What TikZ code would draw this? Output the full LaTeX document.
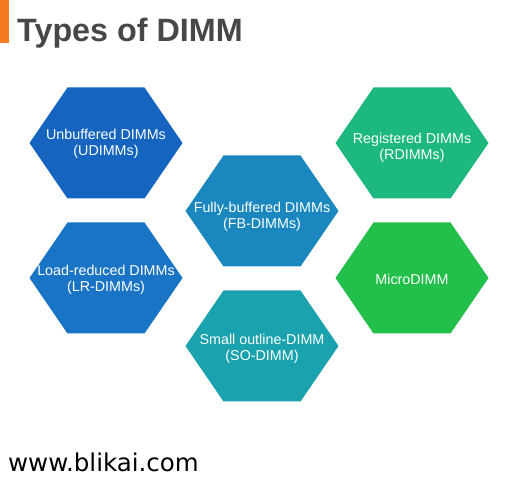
\documentclass[tikz,border=0pt]{standalone}
\usepackage{fontspec}
\setmainfont{Liberation Sans}
\newfontfamily\footfont{DejaVu Sans}
\definecolor{cUD}{HTML}{1565C0}
\definecolor{cLR}{HTML}{1A74C6}
\definecolor{cFB}{HTML}{1A88BF}
\definecolor{cSO}{HTML}{1AA3AE}
\definecolor{cRD}{HTML}{1DB87E}
\definecolor{cMI}{HTML}{22C04A}
\definecolor{titlegray}{HTML}{474747}
\definecolor{barorange}{HTML}{F47B20}
\tikzset{
  hexlabel/.style={text=white, font=\fontsize{14.3}{15.5}\selectfont, align=center, inner sep=0pt},
}
\begin{document}
\begin{tikzpicture}[x=1pt,y=-1pt]
\useasboundingbox (0,0) rectangle (520,478);
\fill[white] (0,0) rectangle (520,478);
\fill[barorange] (0,0) rectangle (9,43);
\node[anchor=base west, inner sep=0pt, text=titlegray, font=\bfseries\fontsize{32.3}{36}\selectfont] (title) at (17,42) {Types of DIMM};

\fill[cUD] (106-76.5,143) -- (106-38.5,143-55.5) -- (106+38.5,143-55.5) -- (106+76.5,143) -- (106+38.5,143+55.5) -- (106-38.5,143+55.5) -- cycle;
\node[hexlabel] (ud) at (106,144) {Unbuffered DIMMs\\(UDIMMs)};

\fill[cRD] (412-76.5,143) -- (412-38.5,143-55.5) -- (412+38.5,143-55.5) -- (412+76.5,143) -- (412+38.5,143+55.5) -- (412-38.5,143+55.5) -- cycle;
\node[hexlabel] (rd) at (412,148) {Registered DIMMs\\(RDIMMs)};

\fill[cFB] (262-76.5,211) -- (262-38.5,211-55.5) -- (262+38.5,211-55.5) -- (262+76.5,211) -- (262+38.5,211+55.5) -- (262-38.5,211+55.5) -- cycle;
\node[hexlabel] (fb) at (262,217) {Fully-buffered DIMMs\\(FB-DIMMs)};

\fill[cLR] (106-76.5,278) -- (106-38.5,278-55.5) -- (106+38.5,278-55.5) -- (106+76.5,278) -- (106+38.5,278+55.5) -- (106-38.5,278+55.5) -- cycle;
\node[hexlabel] (lr) at (106,280) {Load-reduced DIMMs\\(LR-DIMMs)};

\fill[cMI] (412-76.5,278) -- (412-38.5,278-55.5) -- (412+38.5,278-55.5) -- (412+76.5,278) -- (412+38.5,278+55.5) -- (412-38.5,278+55.5) -- cycle;
\node[hexlabel] (mi) at (412,279) {MicroDIMM};

\fill[cSO] (262-76.5,346) -- (262-38.5,346-55.5) -- (262+38.5,346-55.5) -- (262+76.5,346) -- (262+38.5,346+55.5) -- (262-38.5,346+55.5) -- cycle;
\node[hexlabel] (so) at (262,349) {Small outline-DIMM\\(SO-DIMM)};

\node[anchor=base west, inner sep=0pt, text=black, font=\footfont\fontsize{24.5}{28}\selectfont] (foot) at (8,472) {www.blikai.com};
\end{tikzpicture}
\end{document}
